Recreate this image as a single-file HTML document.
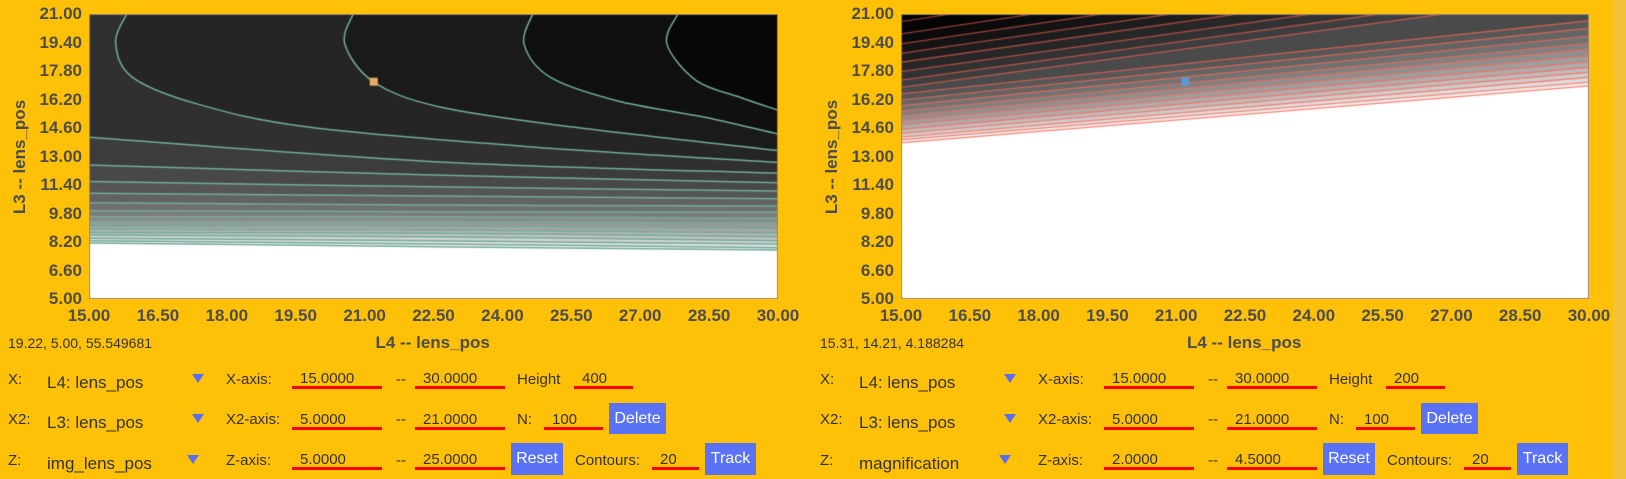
<!DOCTYPE html>
<html><head><meta charset="utf-8">
<style>
body{margin:0;width:1626px;height:479px;background:#FFC107;position:relative;overflow:hidden;font-family:"Liberation Sans",sans-serif;color:#333}
.tick{position:absolute;font-size:17px;font-weight:bold;color:#4d4d4d;line-height:18px}
.yt{text-align:right;width:70px}
.xt{text-align:center;width:70px}
.title{position:absolute;font-size:17px;font-weight:bold;color:#4d4d4d;white-space:nowrap}
.status{position:absolute;font-size:14px;color:#333}
.lbl{position:absolute;font-size:15px;color:#333;line-height:18px;white-space:nowrap}
.sel{position:absolute;font-size:17px;color:#333;line-height:20px;white-space:nowrap}
.tri{position:absolute;width:0;height:0;border-left:6px solid transparent;border-right:6px solid transparent;border-top:9px solid #5b6ef0}
.inp{position:absolute;height:25px;border-bottom:3px solid #f00;font-size:15px;color:#333;line-height:18px;padding-top:6px;box-sizing:border-box;padding-left:8px;overflow:visible}
.btn{position:absolute;background:#5a72f6;color:#fff;font-size:16px;text-align:center;box-sizing:border-box;border:none}
canvas{position:absolute}
.scroll{position:absolute;left:1613px;top:0;width:13px;height:479px;background:#f2c23c}
</style></head><body>
<div class="scroll"></div>
<canvas id="c1" width="689" height="285" style="left:89px;top:14px"></canvas>
<canvas id="c2" width="688" height="285" style="left:901px;top:14px"></canvas>
<div id="axes"></div>

<div class="status" style="left:8px;top:335px">19.22, 5.00, 55.549681</div>
<div class="status" style="left:820px;top:335px">15.31, 14.21, 4.188284</div>

<div id="controls"></div>

<script>
// ---- left chart data (img_lens_pos) ----
const xTicks = ["15.00","16.50","18.00","19.50","21.00","22.50","24.00","25.50","27.00","28.50","30.00"];
const yTicks = ["21.00","19.40","17.80","16.20","14.60","13.00","11.40","9.80","8.20","6.60","5.00"];
const lineXs = [15, 22.5, 30];
const leftLinesAt15 = [14.08,12.52,11.59,10.93,10.41,9.96,9.62,9.34,9.10,8.91,8.74,8.59,8.41,8.27,8.14];
const leftLinesAt22 = [12.71,11.96,11.30,10.78,10.28,9.90,9.62,9.34,9.10,8.87,8.69,8.50,8.27,8.09,7.94];
const leftLinesAt30 = [12.06,11.53,11.06,10.63,10.22,9.87,9.53,9.25,8.97,8.72,8.50,8.27,8.09,7.88,7.75];
const curve1 = [[15.82,21],[15.58,19.41],[15.94,17.46],[17.37,15.94],[19.77,14.65],[24.56,13.55],[30,12.67]];
const curve2 = [[20.75,21],[20.57,19.32],[21.2,17.18],[22.64,15.78],[25.54,14.65],[30,13.33]];
const curve3 = [[24.66,21],[24.47,19.32],[25.04,17.45],[26.49,16.13],[28.41,15.2],[30,14.26]];
const curve4 = [[27.82,21],[27.58,19.32],[28.22,17.26],[29.2,16.3],[30,15.6]];
const leftMarker = [21.2, 17.2];
// ---- right chart data (magnification) ----
const rightLinesAt15 = [20.57,19.88,19.32,18.79,18.29,17.76,17.29,16.88,16.51,16.17,15.85,15.55,15.27,15.01,14.77,14.53,14.30,14.09,13.93,13.77];
const rightLinesAt30 = [26.5,25.7,25.06,24.42,23.83,23.19,22.62,22.1,20.62,20.2,19.76,19.35,19.02,18.66,18.32,18.01,17.73,17.45,17.18,16.96];
const rightMarker = [21.2, 17.2];

const W1=689,W2=688,H=285;
function sx(x,w){return (x-15)/15*w;}
function sy(y){return H-(y-5)/16*H;}

function horizPts(i){return lineXs.map((x,k)=>[x,[leftLinesAt15,leftLinesAt22,leftLinesAt30][k][i]]);}

function smoothPath(c,pts,w,start){
 const P=pts.map(q=>[sx(q[0],w),sy(q[1])]);
 if(start)c.moveTo(P[0][0],P[0][1]);else c.lineTo(P[0][0],P[0][1]);
 for(let i=0;i<P.length-1;i++){
  const p0=P[Math.max(i-1,0)],p1=P[i],p2=P[i+1],p3=P[Math.min(i+2,P.length-1)];
  c.bezierCurveTo(p1[0]+(p2[0]-p0[0])/6,p1[1]+(p2[1]-p0[1])/6,p2[0]-(p3[0]-p1[0])/6,p2[1]-(p3[1]-p1[1])/6,p2[0],p2[1]);
 }
}

(function(){
 const c=document.getElementById('c1').getContext('2d');
 c.fillStyle='#fff';c.fillRect(0,0,W1,H);
 const n=leftLinesAt15.length;
 const curves=[curve1,curve2,curve3,curve4];
 const gray=j=>{const g=Math.round(255*Math.pow(1-(j+1)/20,1.2));return 'rgb('+g+','+g+','+g+')';};
 let j=0;
 for(let i=n-1;i>=0;i--){
  c.beginPath();c.moveTo(0,0);
  smoothPath(c,horizPts(i),W1,false);
  c.lineTo(W1,0);c.closePath();c.fillStyle=gray(j++);c.fill();
 }
 curves.forEach(cv=>{
  c.beginPath();smoothPath(c,cv,W1,true);
  c.lineTo(W1,0);c.closePath();c.fillStyle=gray(j++);c.fill();
 });
 c.strokeStyle='#74ab9c';c.lineWidth=1.5;
 for(let i=0;i<n;i++){c.beginPath();smoothPath(c,horizPts(i),W1,true);c.stroke();}
 curves.forEach(cv=>{c.beginPath();smoothPath(c,cv,W1,true);c.stroke();});
 c.fillStyle='#e8a860';c.fillRect(sx(leftMarker[0],W1)-4,sy(leftMarker[1])-4,8,8);
 c.strokeStyle='#a08a70';c.lineWidth=1;c.strokeRect(0.5,0.5,W1-1,H-1);
})();

(function(){
 const c=document.getElementById('c2').getContext('2d');
 c.fillStyle='#000';c.fillRect(0,0,W2,H);
 const n=rightLinesAt15.length;
 for(let k=0;k<n;k++){
  const g=Math.round(255*Math.pow((k+1)/20,1.35));
  c.beginPath();c.moveTo(0,sy(rightLinesAt15[k]));c.lineTo(W2,sy(rightLinesAt30[k]));c.lineTo(W2,H);c.lineTo(0,H);c.closePath();
  c.fillStyle='rgb('+g+','+g+','+g+')';c.fill();
 }
 c.lineWidth=1.3;
 for(let k=0;k<n;k++){c.strokeStyle='rgba(255,105,85,'+(0.55+0.25*k/n)+')';c.beginPath();c.moveTo(0,sy(rightLinesAt15[k]));c.lineTo(W2,sy(rightLinesAt30[k]));c.stroke();}
 c.fillStyle='#5b9bd5';c.fillRect(sx(rightMarker[0],W2)-4,sy(rightMarker[1])-4,8,8);
 c.strokeStyle='#a08a70';c.lineWidth=1;c.strokeRect(0.5,0.5,W2-1,H-1);
})();

// axes labels
(function(){
 const ax=document.getElementById('axes');
 [[89,689],[901,688]].forEach(([L,w])=>{
  yTicks.forEach((t,i)=>{const d=document.createElement('div');d.className='tick yt';d.textContent=t;
   d.style.left=(L-77)+'px';d.style.top=(14+i*28.5-9)+'px';
   
   
   ax.appendChild(d);});
  xTicks.forEach((t,i)=>{const d=document.createElement('div');d.className='tick xt';d.textContent=t;
   d.style.left=(L+i*w/10-35)+'px';d.style.top='307px';
   
   
   ax.appendChild(d);});
  const xt=document.createElement('div');xt.className='title';xt.textContent='L4 -- lens_pos';
  xt.style.left=(L+w/2-58)+'px';xt.style.top='333px';
  
  
  ax.appendChild(xt);
  const yt=document.createElement('div');yt.className='title';yt.textContent='L3 -- lens_pos';
  yt.style.left=(L-129)+'px';yt.style.top='147px';yt.style.width='120px';yt.style.textAlign='center';yt.style.transform='rotate(-90deg)';
  
  
  ax.appendChild(yt);
 });
})();

// controls
(function(){
 const root=document.getElementById('controls');
 const panels=[
  {o:0,h:'400',z:'img_lens_pos',z1:'5.0000',z2:'25.0000'},
  {o:812,h:'200',z:'magnification',z1:'2.0000',z2:'4.5000'}];
 function add(cls,txt,l,t,w,h,name,inter){
  const d=document.createElement('div');d.className=cls;if(txt)d.textContent=txt;
  d.style.left=l+'px';d.style.top=t+'px';if(w)d.style.width=w+'px';if(h){d.style.height=h+'px';d.style.lineHeight=h+'px';}
  
  
  root.appendChild(d);return d;}
 panels.forEach(p=>{
  const o=p.o;
  const rows=[{y:370,u:364,a:'X:',s:'L4: lens_pos',ax:'X-axis:',v1:'15.0000',v2:'30.0000'},
              {y:410,u:405,a:'X2:',s:'L3: lens_pos',ax:'X2-axis:',v1:'5.0000',v2:'21.0000'},
              {y:451,u:445,a:'Z:',s:p.z,ax:'Z-axis:',v1:p.z1,v2:p.z2}];
  rows.forEach((r,i)=>{
   add('lbl',r.a,8+o,r.y+1,0,0,'axis-label','false');
   add('sel',r.s,47+o,r.y+3,0,0,'variable-select','true');
   add('tri','',(i==2?187:192)+o,r.y+4,0,0,'dropdown-arrow','true');
   add('lbl',r.ax,226+o,r.y+1,0,0,'range-label','false');
   add('inp',r.v1,292+o,r.u,90,0,'range-min-input','true');
   add('lbl','--',396+o,r.y+1,0,0,'range-separator','false');
   add('inp',r.v2,415+o,r.u,90,0,'range-max-input','true');
  });
  add('lbl','Height',517+o,371,0,0,'height-label','false');
  add('inp',p.h,574+o,364,59,0,'height-input','true');
  add('lbl','N:',517+o,411,0,0,'n-label','false');
  add('inp','100',544+o,405,59,0,'n-input','true');
  add('btn','Delete',609+o,403,57,31,'delete-button','true');
  add('btn','Reset',511+o,443,52,32,'reset-button','true');
  add('lbl','Contours:',575+o,452,0,0,'contours-label','false');
  add('inp','20',652+o,445,47,0,'contours-input','true');
  add('btn','Track',705+o,443,51,32,'track-button','true');
 });
})();
</script>
</body></html>
